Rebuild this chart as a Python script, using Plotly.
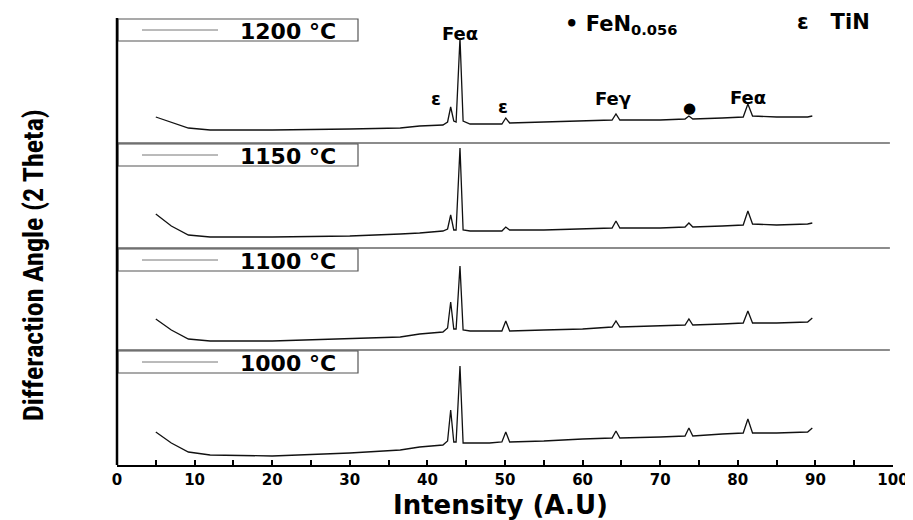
import plotly.graph_objects as go

# ---------------- data ----------------
series_names = ["1200 °C", "1150 °C", "1100 °C", "1000 °C"]

two_theta = [5, 7, 9.2, 12, 20, 30, 36.5, 39, 42.0, 42.6, 43.0, 43.4, 43.7, 44.2, 44.6,
             45.5, 48, 49.6, 50.1, 50.6, 55, 60, 63.8, 64.3, 64.8, 70, 73.2, 73.7, 74.2,
             78, 80.7, 81.3, 81.9, 85, 89, 89.6]

int_1200 = [26, 21, 15, 13, 13, 14, 15, 17, 18, 21, 36, 22, 21, 105, 22,
            19, 19, 19, 25, 20, 21, 22, 23, 29, 23, 23, 24, 27, 24,
            25, 26, 39, 27, 26, 26, 27]
int_1150 = [34, 22, 13, 11, 11, 12, 14, 15, 17, 19, 33, 18, 18, 100, 18,
            17, 17, 17, 21, 18, 18, 19, 20, 27, 20, 20, 21, 25, 21,
            22, 23, 37, 24, 23, 24, 25]
int_1100 = [31, 20, 11, 9, 9, 11, 13, 16, 18, 22, 48, 21, 21, 84, 20,
            19, 19, 19, 29, 19, 20, 21, 23, 29, 23, 24, 25, 31, 25,
            26, 27, 39, 27, 27, 28, 32]
int_1000 = [33, 22, 13, 10, 9, 12, 15, 18, 20, 24, 55, 23, 23, 99, 22,
            22, 22, 23, 33, 23, 24, 26, 27, 34, 27, 28, 29, 37, 29,
            31, 32, 46, 32, 32, 33, 37]

x_ticks = [0, 10, 20, 30, 40, 50, 60, 70, 80, 90, 100]

peak_labels = ["Feα", "ε", "ε", "Feγ", "●", "Feα"]
peak_label_x = [44.2, 41.1, 49.8, 63.9, 73.8, 81.3]
peak_label_y = [110, 45, 37, 45, 35, 46]

# ---------------- layout helpers ----------------
# the page body adds an 8 px offset; figure is sized so it still ends at 913x520
OFF = 8
W, H = 913 - OFF, 520 - OFF
L, R, T, B = 117 - OFF, 20, 18 - OFF, 55
plot_h = H - T - B
# panel boundaries in screen pixels (from top of window)
bounds_px = [18, 143, 248, 350, 465]
def py2paper(py):
    return (465 - py) / plot_h
def px2paper(px):
    return (px - 117) / (W - L - R)

fig = go.Figure()
curves = [int_1200, int_1150, int_1100, int_1000]
axis_ids = ["y4", "y3", "y2", "y"]
for name, vals, ax in zip(series_names, curves, axis_ids):
    fig.add_trace(go.Scatter(x=two_theta, y=vals, mode="lines", name=name, yaxis=ax,
                             line=dict(color="#111111", width=1.3), showlegend=False))

bold = dict(family="DejaVu Sans, Liberation Sans, Arial", color="black", weight=700)

shapes = []
annotations = []
yaxes = {}
layout_keys = ["yaxis4", "yaxis3", "yaxis2", "yaxis"]
for i, key in enumerate(layout_keys):
    top_px, bot_px = bounds_px[i], bounds_px[i + 1]
    d0, d1 = py2paper(bot_px), py2paper(top_px)
    yaxes[key] = dict(domain=[d0, d1], range=[0, bot_px - top_px], visible=False,
                      fixedrange=True)
    if i > 0:
        shapes.append(dict(type="line", xref="paper", yref="paper", x0=0, x1=0.996,
                           y0=d1, y1=d1, line=dict(color="#666666", width=1.6)))
    # legend box
    bt = top_px + 1
    bb = top_px + 23
    shapes.append(dict(type="rect", xref="paper", yref="paper",
                       x0=px2paper(118), x1=px2paper(358), y0=py2paper(bb), y1=py2paper(bt),
                       line=dict(color="#555555", width=1.2), fillcolor="white"))
    shapes.append(dict(type="line", xref="paper", yref="paper",
                       x0=px2paper(142), x1=px2paper(218),
                       y0=py2paper((bt + bb) / 2), y1=py2paper((bt + bb) / 2),
                       line=dict(color="#777777", width=1)))
    annotations.append(dict(text=series_names[i], xref="paper", yref="paper",
                            x=px2paper(288), y=py2paper((bt + bb) / 2 + 1),
                            xanchor="center", yanchor="middle", showarrow=False,
                            font=dict(bold, size=22)))

# left axis line
shapes.append(dict(type="line", xref="paper", yref="paper", x0=0, x1=0, y0=0, y1=1,
                   line=dict(color="black", width=2.5)))

for t, xv, yv in zip(peak_labels, peak_label_x, peak_label_y):
    annotations.append(dict(text=t, x=xv, y=yv, xref="x", yref="y4", showarrow=False,
                            xanchor="center", yanchor="middle",
                            font=dict(bold, size=18 if t != "●" else 15)))

annotations.append(dict(text="• FeN<sub>0.056</sub>", xref="paper", yref="paper",
                        x=px2paper(563), y=py2paper(25), xanchor="left", yanchor="middle",
                        showarrow=False, font=dict(bold, size=21)))
annotations.append(dict(text="ε   TiN", xref="paper", yref="paper",
                        x=px2paper(795), y=py2paper(22), xanchor="left", yanchor="middle",
                        showarrow=False, font=dict(bold, size=21)))
annotations.append(dict(text="Differaction Angle (2 Theta)", xref="paper", yref="paper",
                        x=px2paper(33), y=py2paper(265), xanchor="center", yanchor="middle",
                        textangle=-90, showarrow=False,
                        font=dict(family="Liberation Sans Narrow, Arial Narrow, Roboto Condensed, Liberation Sans",
                                  size=28, color="black", weight=700)))
annotations.append(dict(text="Intensity (A.U)", xref="paper", yref="paper",
                        x=px2paper(500), y=py2paper(505), xanchor="center", yanchor="middle",
                        showarrow=False, font=dict(bold, size=26)))

fig.update_layout(
    width=W, height=H,
    margin=dict(l=L, r=R, t=T, b=B, autoexpand=False),
    paper_bgcolor="white", plot_bgcolor="white",
    xaxis=dict(range=[0, 100], tickvals=x_ticks, ticks="inside", ticklen=5, tickwidth=1.5,
               tickcolor="black", showline=True, linecolor="black", linewidth=2,
               showgrid=False, zeroline=False, anchor="y", automargin=False,
               minor=dict(ticks="inside", ticklen=5, dtick=5, tickcolor="black", tickwidth=1.5),
               tickfont=dict(bold, size=15)),
    shapes=shapes, annotations=annotations,
    **yaxes,
)

fig.write_html("out.html")
